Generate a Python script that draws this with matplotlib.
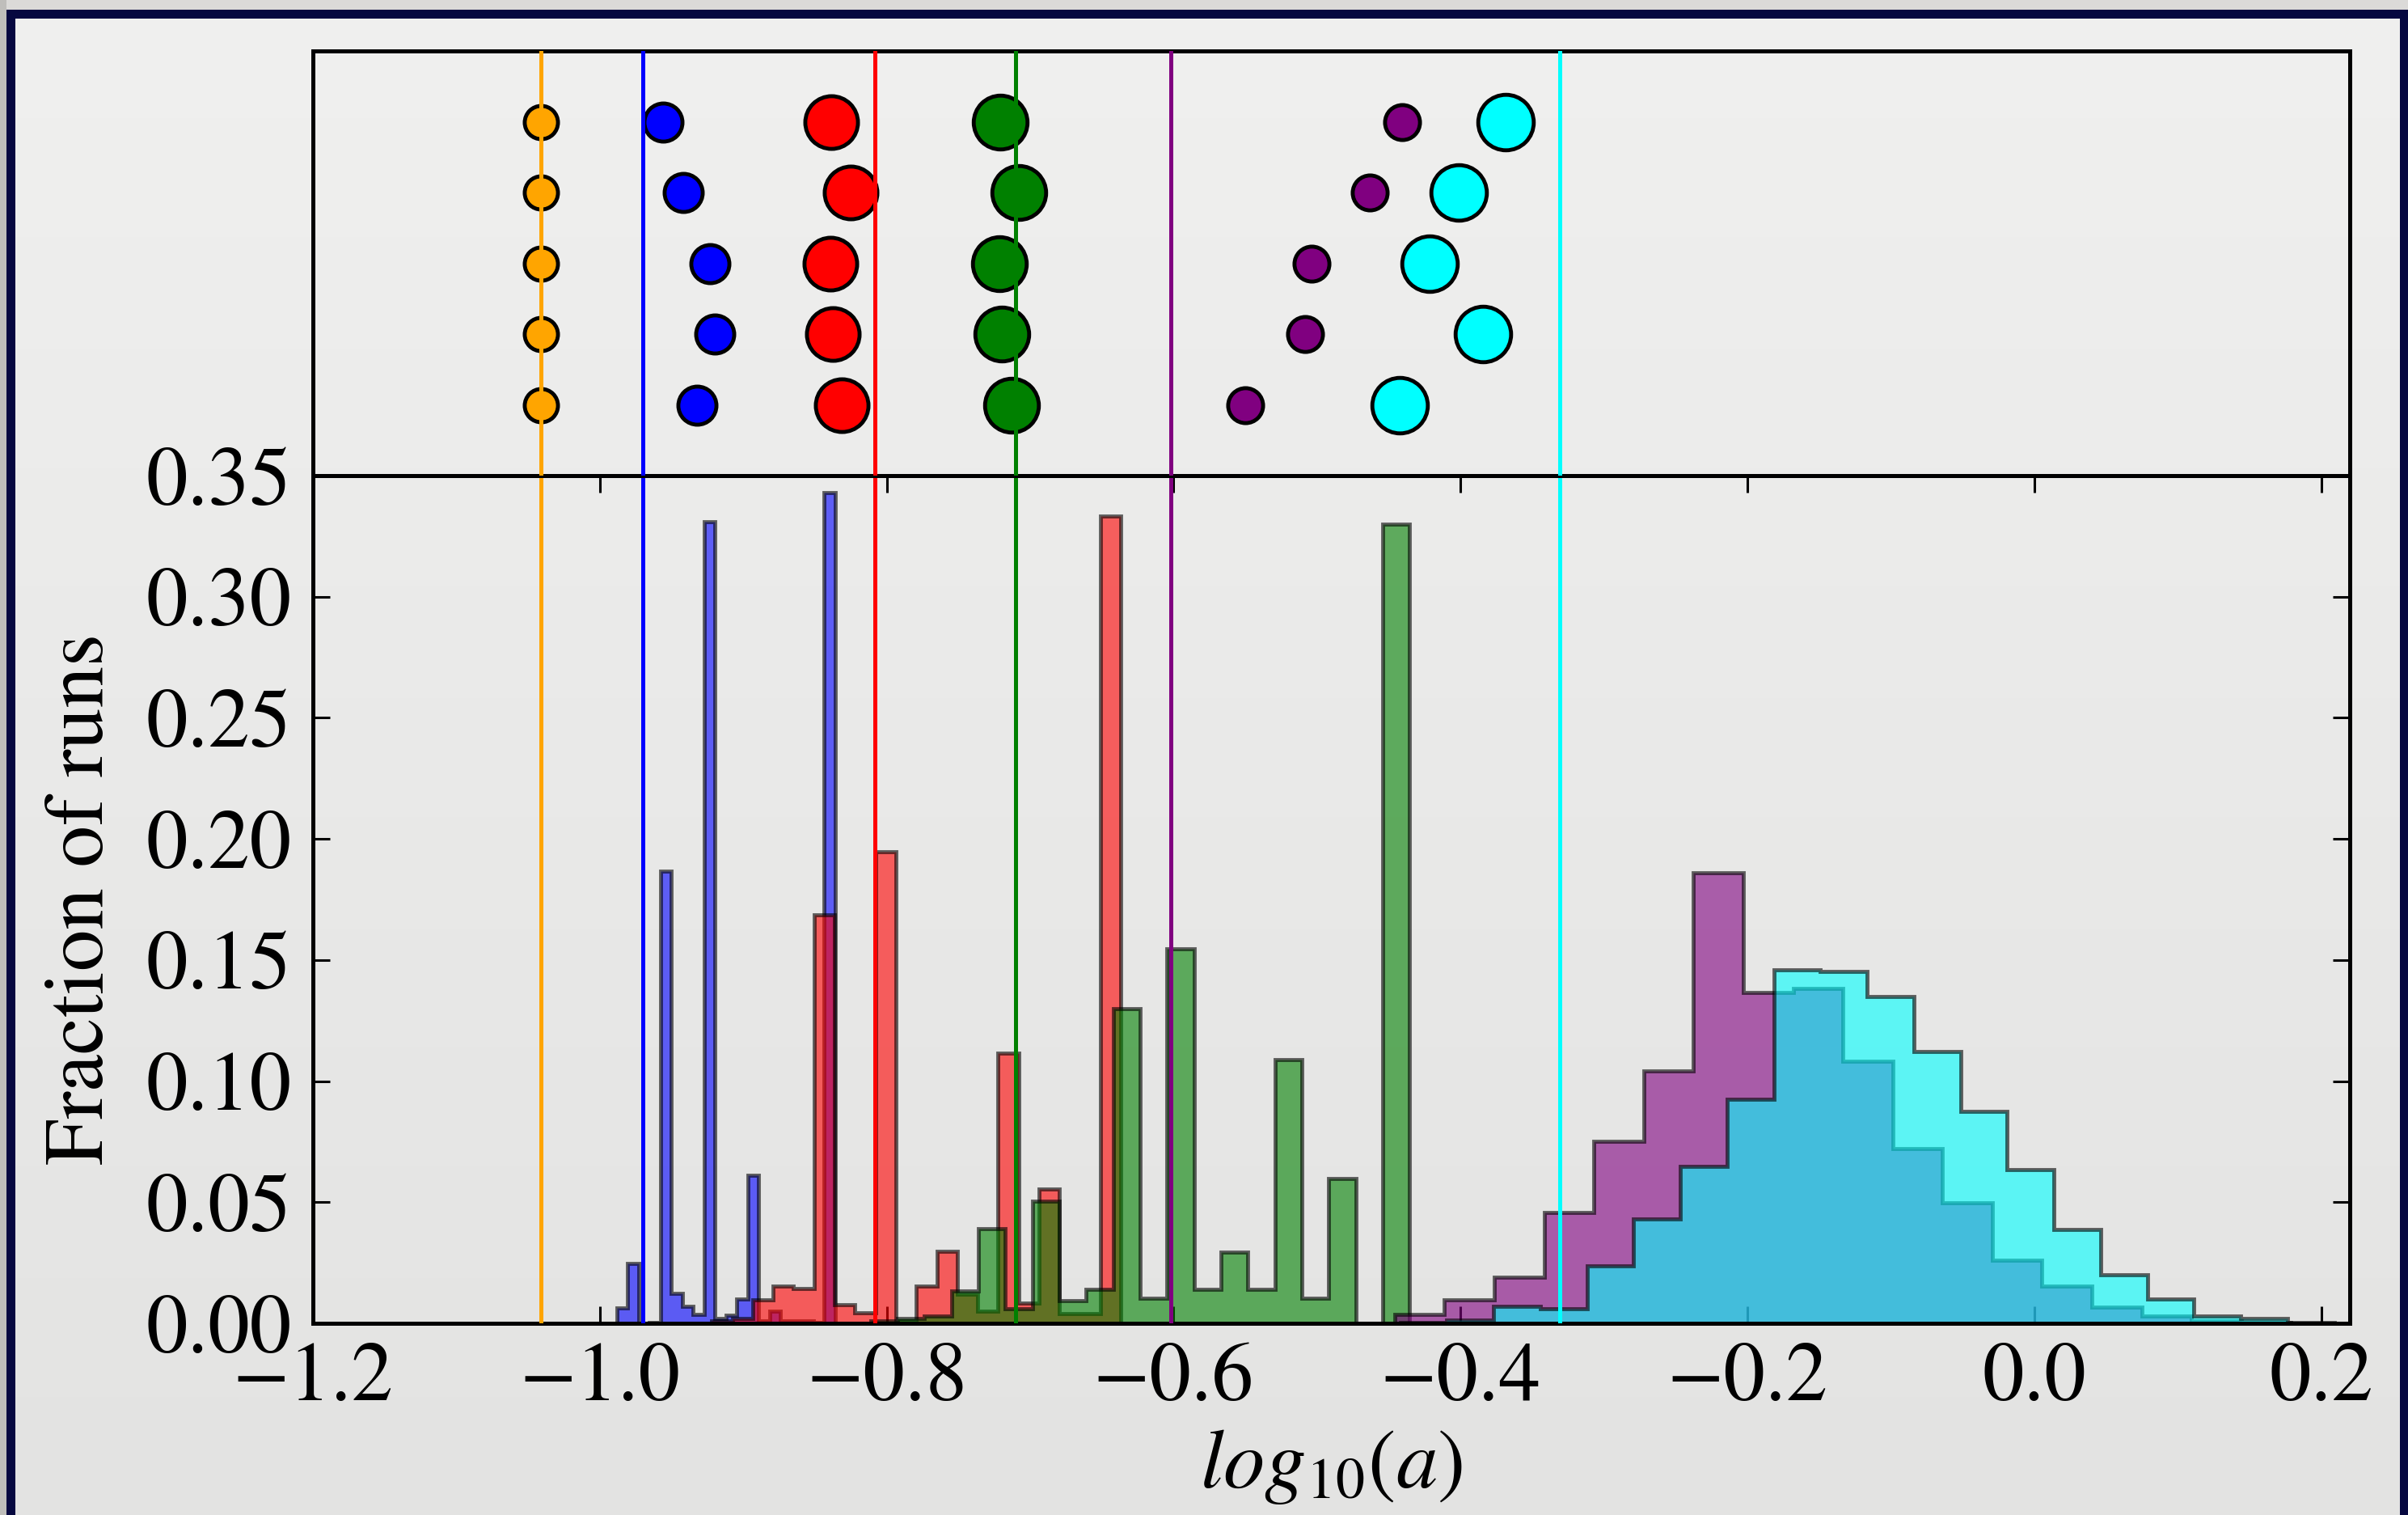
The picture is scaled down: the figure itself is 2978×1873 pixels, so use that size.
import numpy as np
import matplotlib
matplotlib.use("Agg")
import matplotlib.pyplot as plt
from matplotlib.patches import Rectangle
from matplotlib.colors import LinearSegmentedColormap

plt.rcParams['font.family'] = 'STIXGeneral'
plt.rcParams['mathtext.fontset'] = 'stix'

# ---------------- data ----------------
series_colors = ['orange', 'blue', 'red', 'green', 'purple', 'cyan']
true_values = [-1.041, -0.970, -0.808, -0.710, -0.602, -0.331]

# five runs (rows, top to bottom) of point estimates in the upper panel
rows = [1, 2, 3, 4, 5]
orange_pts = [-1.041, -1.041, -1.041, -1.041, -1.041]
blue_pts = [-0.956, -0.942, -0.923, -0.920, -0.932]
red_pts = [-0.8385, -0.8249, -0.8392, -0.8374, -0.8313]
green_pts = [-0.7206, -0.7080, -0.7216, -0.7198, -0.7130]
purple_pts = [-0.4405, -0.4634, -0.5037, -0.5082, -0.5503]
cyan_pts = [-0.3688, -0.4011, -0.4214, -0.3844, -0.4426]
points = [orange_pts, blue_pts, red_pts, green_pts, purple_pts, cyan_pts]

# histograms: first bin edge, bin width, fraction of runs per bin (20 bins)
blue_start, blue_width = -0.9883, 0.00761
blue_frac = [0.0064, 0.0247, 0.0, 0.0005, 0.1868, 0.0125, 0.0071, 0.0036, 0.3311, 0.002,
             0.0035, 0.0100, 0.061, 0.001, 0.005, 0.001, 0.001, 0.001, 0.0005, 0.3429]
red_start, red_width = -0.9219, 0.014256
red_frac = [0.001, 0.002, 0.0097, 0.0155, 0.0142, 0.1688, 0.0078, 0.0043, 0.1946, 0.001,
            0.0153, 0.0298, 0.012, 0.005, 0.1114, 0.0083, 0.0556, 0.004, 0.004, 0.3333]
green_start, green_width = -0.8113, 0.018792
green_frac = [0.001, 0.002, 0.003, 0.0135, 0.039, 0.006, 0.0504, 0.0095, 0.014, 0.130,
              0.0103, 0.1547, 0.014, 0.0294, 0.014, 0.109, 0.0103, 0.0598, 0.0, 0.330]
purple_start, purple_width = -0.4805, 0.03471
purple_frac = [0.0, 0.0036, 0.0097, 0.019, 0.0457, 0.075, 0.1043, 0.1859, 0.1367, 0.1381,
               0.1083, 0.072, 0.0499, 0.026, 0.0153, 0.0067, 0.0029, 0.001, 0.0005, 0.0]
cyan_start, cyan_width = -0.4420, 0.032551
cyan_frac = [0.0005, 0.0015, 0.0069, 0.0059, 0.0238, 0.0432, 0.0648, 0.0924, 0.1461, 0.1453,
             0.1349, 0.1122, 0.0875, 0.0633, 0.0387, 0.0201, 0.0101, 0.0029, 0.0019, 0.0005]
hists = [('blue', blue_start, blue_width, blue_frac),
         ('red', red_start, red_width, red_frac),
         ('green', green_start, green_width, green_frac),
         ('purple', purple_start, purple_width, purple_frac),
         ('cyan', cyan_start, cyan_width, cyan_frac)]

xticks = [-1.2, -1.0, -0.8, -0.6, -0.4, -0.2, 0.0, 0.2]
yticks = [0.0, 0.05, 0.10, 0.15, 0.20, 0.25, 0.30, 0.35]

# ---------------- figure ----------------
W, H = 2978, 1873
fig = plt.figure(figsize=(W / 100, H / 100), dpi=100)

bg = fig.add_axes([0, 0, 1, 1], zorder=-10)
bg_cmap = LinearSegmentedColormap.from_list('bg', ['#f0f0ef', '#e3e3e2'])
bg.imshow(np.linspace(0, 1, 256).reshape(-1, 1), aspect='auto', cmap=bg_cmap,
          extent=[0, 1, 0, 1], origin='upper')
bg.axis('off')

# window frame around the screenshot
def px_rect(x0, y0, w, h, color):
    fig.add_artist(Rectangle((x0 / W, 1 - (y0 + h) / H), w / W, h / H,
                             transform=fig.transFigure, color=color, lw=0, zorder=20))

px_rect(0, 0, W, 12.3, '#dbdad8')
px_rect(0, 0, 8, H, '#bfbebb')
px_rect(8, 12.3, W - 8, 11, '#060840')
px_rect(8, 12.3, 11, H, '#060840')
px_rect(2968, 12.3, 10, H, '#060840')

left, right = 387 / W, 2906 / W
ax = fig.add_axes([left, 1 - 1636 / H, right - left, (1636 - 588) / H])
ax_top = fig.add_axes([left, 1 - 588 / H, right - left, (588 - 63) / H], sharex=ax)
for a in (ax, ax_top):
    a.set_facecolor('none')
    for s in a.spines.values():
        s.set_linewidth(3.6)

# histograms
for color, start, width, frac in hists:
    edges = start + width * np.arange(len(frac) + 1)
    centers = edges[:-1] + width / 2
    ax.hist(centers, bins=edges, weights=frac, histtype='stepfilled',
            facecolor=color, edgecolor='k', alpha=0.6, linewidth=3.5, zorder=2)

for color, v in zip(series_colors, true_values):
    ax.axvline(v, color=color, lw=3.6, zorder=5)
    ax_top.axvline(v, color=color, lw=3.6, zorder=5)

marker_ms = [29.6, 33.9, 46.9, 47.9, 31.1, 49.4]
for color, pts, ms in zip(series_colors, points, marker_ms):
    ax_top.plot(pts, rows, 'o', ls='none', ms=ms, mfc=color, mec='k', mew=3.5, zorder=3)

ax.set_xlim(-1.2, 0.22)
ax.set_ylim(0, 0.35)
ax.set_xticks(xticks)
ax.set_yticks(yticks)
ax.set_xticklabels(['%.1f' % t if t >= 0 else '\u2212%.1f' % -t for t in xticks])
ax.set_yticklabels(['%.2f' % t for t in yticks])
ax.tick_params(direction='in', top=True, right=True, length=15, width=2.2,
               labelsize=74)
ax.tick_params(axis='x', pad=17)
ax.tick_params(axis='y', pad=19)
ax.set_xlabel(r'$log_{10}(a)$', fontsize=74, labelpad=8)
ax.set_ylabel('Fraction of runs', fontsize=74, labelpad=22)

ax_top.set_ylim(6, 0)
ax_top.tick_params(left=False, bottom=False, labelleft=False, labelbottom=False)

fig.savefig('out.png', dpi=100)
